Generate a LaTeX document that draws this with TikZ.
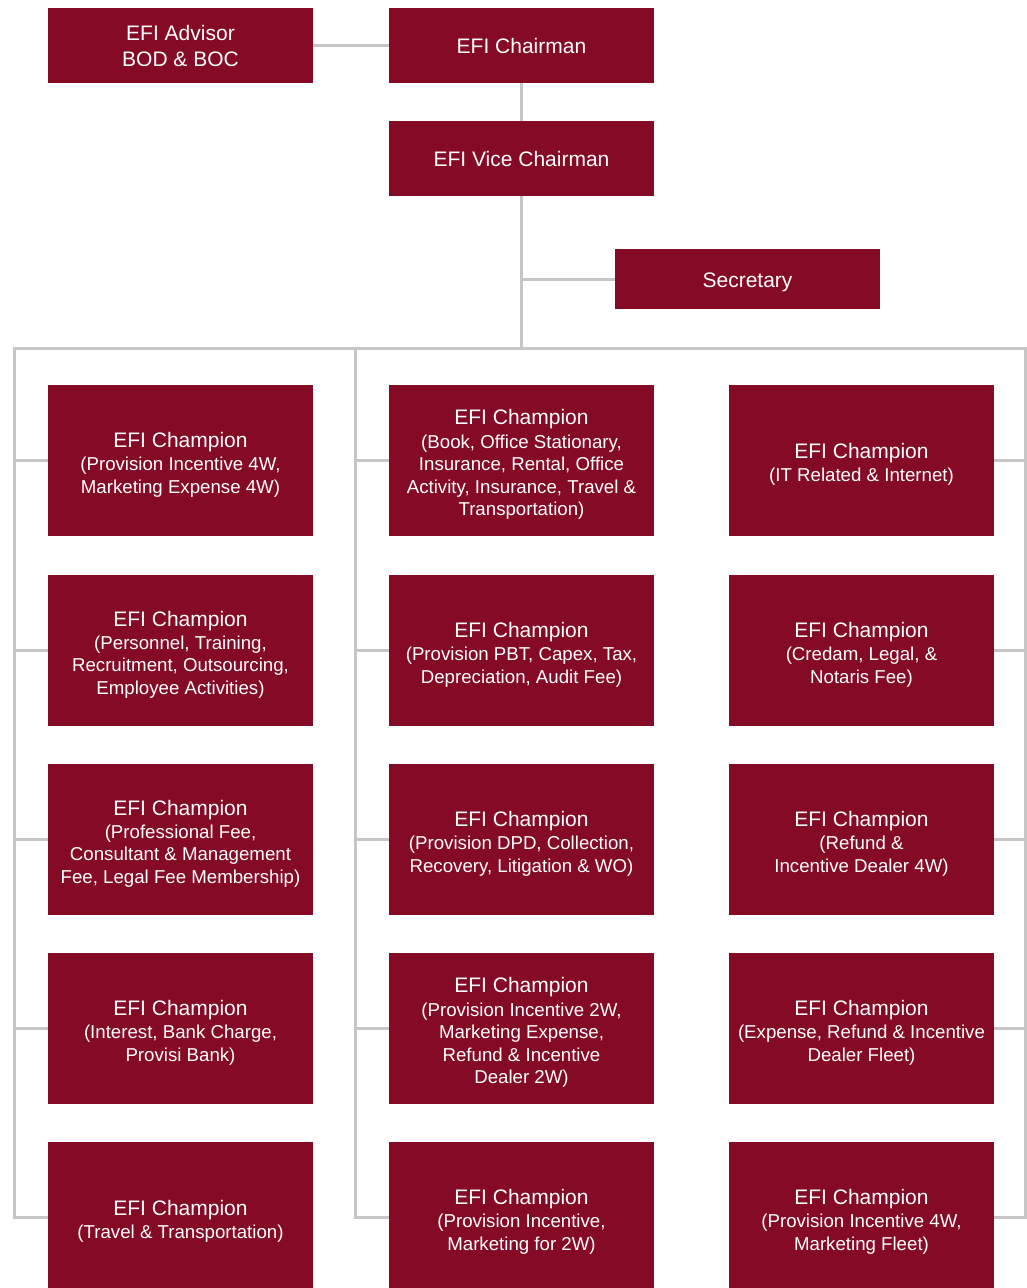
\documentclass[tikz,border=0pt]{standalone}
\usepackage{fontspec}
\setmainfont{Liberation Sans}
\usetikzlibrary{backgrounds}
\definecolor{boxred}{HTML}{850A26}
\definecolor{linegray}{HTML}{C6C6C6}
\newcommand\ttl[1]{{\fontsize{15.75}{17}\selectfont\rule{0pt}{18.6pt}#1}}
\newcommand\topstrut{\rule{0pt}{16.4pt}}
\tikzset{
  unitbox/.style={fill=boxred, text=white, inner sep=0pt, align=center,
    minimum width=198.75pt,
    execute at end node={\rule[-4pt]{0pt}{0pt}}},
  topbox/.style={unitbox, minimum height=56.25pt, font=\fontsize{15.75}{19.5}\selectfont},
  secbox/.style={topbox, minimum height=45pt},
  champ/.style={unitbox, minimum height=113.25pt, font=\fontsize{14}{16.8}\selectfont},
  conn/.style={draw=linegray, line width=2.25pt}
}
\begin{document}
\begin{tikzpicture}[x=0.75pt,y=-0.75pt]
\useasboundingbox (0,0) rectangle (1027,1288);
% top
\node[topbox] (adv) at (180.5,45.5) {\topstrut EFI Advisor\\BOD \& BOC};
\node[topbox] (chair) at (521.5,45.5) {\topstrut EFI Chairman};
\node[topbox] (vice) at (521.5,158.5) {\topstrut EFI Vice Chairman};
\node[secbox] (sec) at (747.5,279) {\topstrut Secretary};
% grid
\node[champ] (a1) at (180.5,460.5) {\ttl{EFI Champion}\\[0.7pt](Provision Incentive 4W,\\Marketing Expense 4W)};
\node[champ] (a2) at (180.5,650.5) {\ttl{EFI Champion}\\[0.7pt](Personnel, Training,\\Recruitment, Outsourcing,\\Employee Activities)};
\node[champ] (a3) at (180.5,839.5) {\ttl{EFI Champion}\\[0.7pt](Professional Fee,\\Consultant \& Management\\Fee, Legal Fee Membership)};
\node[champ] (a4) at (180.5,1028.5) {\ttl{EFI Champion}\\[0.7pt](Interest, Bank Charge,\\Provisi Bank)};
\node[champ] (a5) at (180.5,1217.5) {\ttl{EFI Champion}\\[0.7pt](Travel \& Transportation)};
\node[champ] (b1) at (521.5,460.5) {\ttl{EFI Champion}\\[0.7pt](Book, Office Stationary,\\Insurance, Rental, Office\\Activity, Insurance, Travel \&\\Transportation)};
\node[champ] (b2) at (521.5,650.5) {\ttl{EFI Champion}\\[0.7pt](Provision PBT, Capex, Tax,\\Depreciation, Audit Fee)};
\node[champ] (b3) at (521.5,839.5) {\ttl{EFI Champion}\\[0.7pt](Provision DPD, Collection,\\Recovery, Litigation \& WO)};
\node[champ] (b4) at (521.5,1028.5) {\ttl{EFI Champion}\\[0.7pt](Provision Incentive 2W,\\Marketing Expense,\\Refund \& Incentive\\Dealer 2W)};
\node[champ] (b5) at (521.5,1217.5) {\ttl{EFI Champion}\\[0.7pt](Provision Incentive,\\Marketing for 2W)};
\node[champ] (c1) at (861.5,460.5) {\ttl{EFI Champion}\\[0.7pt](IT Related \& Internet)};
\node[champ] (c2) at (861.5,650.5) {\ttl{EFI Champion}\\[0.7pt](Credam, Legal, \&\\Notaris Fee)};
\node[champ] (c3) at (861.5,839.5) {\ttl{EFI Champion}\\[0.7pt](Refund \&\\Incentive Dealer 4W)};
\node[champ] (c4) at (861.5,1028.5) {\ttl{EFI Champion}\\[0.7pt](Expense, Refund \& Incentive\\Dealer Fleet)};
\node[champ] (c5) at (861.5,1217.5) {\ttl{EFI Champion}\\[0.7pt](Provision Incentive 4W,\\Marketing Fleet)};
% bus coordinates
\coordinate (bus) at (521.5,348);
\coordinate (busL) at (14,348);
\coordinate (busM) at (355,348);
\coordinate (busR) at (1025.5,348);
\coordinate (secj) at (521.5,279);
\begin{scope}[on background layer]
\fill[white] (0,0) rectangle (1027,1288);
\draw[conn] (adv.east) -- (chair.west);
\draw[conn] (chair.south) -- (vice.north);
\draw[conn] (vice.south) -- (bus);
\draw[conn] (secj) -- (sec.west);
\draw[conn, line cap=rect] (busL) -- (busR);
\draw[conn] (busL) -- (busL |- a5.west) -- (a5.west);
\draw[conn] (busM) -- (busM |- b5.west) -- (b5.west);
\draw[conn] (busR) -- (busR |- c5.east) -- (c5.east);
\foreach \n in {a1,a2,a3,a4} \draw[conn] (busL |- \n.west) -- (\n.west);
\foreach \n in {b1,b2,b3,b4} \draw[conn] (busM |- \n.west) -- (\n.west);
\foreach \n in {c1,c2,c3,c4} \draw[conn] (\n.east) -- (busR |- \n.east);
\end{scope}
\end{tikzpicture}
\end{document}
